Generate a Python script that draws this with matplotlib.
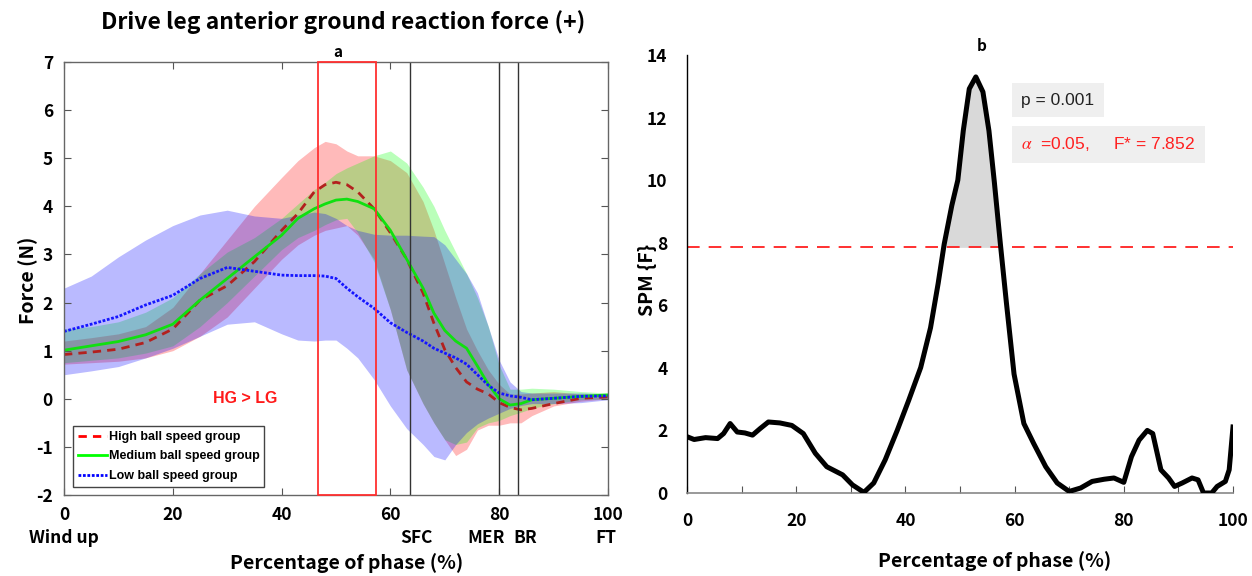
import numpy as np
import matplotlib
matplotlib.use("Agg")
import matplotlib.pyplot as plt
from matplotlib.patches import Rectangle
from matplotlib.lines import Line2D
from matplotlib.transforms import blended_transform_factory

plt.rcParams['font.family'] = ['Noto Sans CJK KR', 'DejaVu Sans']
plt.rcParams['mathtext.fontset'] = 'stix'
plt.rcParams['axes.unicode_minus'] = False

# ---------------- data: panel a ----------------
phase = [0, 5, 10, 15, 20, 25, 30, 35, 40, 43, 46, 48, 50, 52, 54, 57, 60, 63, 66, 68,
         70, 72, 74, 76, 78, 80, 82, 84, 86, 90, 95, 100]

high_mean = [0.92, 0.97, 1.03, 1.17, 1.45, 2.05, 2.35, 2.85, 3.5, 3.85, 4.3, 4.45, 4.5, 4.45,
             4.3, 3.95, 3.45, 2.9, 2.2, 1.57, 1.02, 0.65, 0.35, 0.2, 0.1, -0.08, -0.18,
             -0.23, -0.2, -0.1, 0.01, 0.04]
high_upper = [1.2, 1.27, 1.35, 1.5, 1.9, 2.6, 3.3, 4.0, 4.6, 4.95, 5.22, 5.35, 5.3, 5.15,
              5.05, 5.05, 4.95, 4.7, 4.1, 3.5, 2.8, 2.1, 1.45, 1.0, 0.6, 0.3, 0.1, 0.1,
              0.12, 0.15, 0.1, 0.08]
high_lower = [0.72, 0.75, 0.78, 0.85, 1.0, 1.3, 1.7, 2.3, 2.9, 3.2, 3.4, 3.5, 3.55, 3.6,
              3.4, 2.9, 1.85, 0.6, -0.1, -0.5, -0.85, -1.18, -1.05, -0.65, -0.55, -0.55,
              -0.5, -0.5, -0.35, -0.15, -0.05, 0.0]

med_mean = [1.01, 1.1, 1.19, 1.33, 1.55, 2.05, 2.5, 2.95, 3.4, 3.75, 3.95, 4.05, 4.13, 4.15,
            4.1, 3.95, 3.5, 2.9, 2.3, 1.78, 1.42, 1.2, 1.05, 0.68, 0.3, 0.0, -0.13, -0.1,
            -0.02, 0.01, 0.05, 0.08]
med_upper = [1.45, 1.5, 1.6, 1.8, 2.1, 2.6, 3.05, 3.35, 3.75, 4.05, 4.35, 4.5, 4.68, 4.8,
             4.9, 5.05, 5.15, 4.9, 4.4, 4.0, 3.5, 3.05, 2.6, 2.1, 1.5, 0.7, 0.2, 0.2,
             0.22, 0.2, 0.15, 0.12]
med_lower = [0.75, 0.8, 0.85, 0.95, 1.1, 1.5, 2.0, 2.55, 3.1, 3.35, 3.5, 3.62, 3.72, 3.75,
             3.45, 2.85, 1.85, 0.6, -0.1, -0.5, -0.85, -0.95, -0.9, -0.6, -0.5, -0.45,
             -0.35, -0.28, -0.2, -0.1, -0.02, 0.0]

low_mean = [1.4, 1.55, 1.71, 1.95, 2.15, 2.5, 2.73, 2.65, 2.57, 2.56, 2.56, 2.55, 2.5, 2.3,
            2.12, 1.88, 1.58, 1.38, 1.2, 1.05, 0.95, 0.85, 0.72, 0.5, 0.28, 0.12, 0.06,
            0.03, -0.02, 0.01, 0.05, 0.06]
low_upper = [2.3, 2.55, 2.95, 3.3, 3.6, 3.82, 3.92, 3.8, 3.75, 3.82, 3.88, 3.85, 3.75, 3.6,
             3.5, 3.42, 3.4, 3.4, 3.38, 3.37, 3.2, 2.9, 2.6, 2.2, 1.5, 0.8, 0.35, 0.15,
             0.12, 0.12, 0.12, 0.1]
low_lower = [0.5, 0.58, 0.67, 0.85, 1.05, 1.3, 1.55, 1.6, 1.35, 1.22, 1.2, 1.22, 1.22, 1.05,
             0.85, 0.4, -0.15, -0.62, -0.95, -1.2, -1.27, -0.95, -0.7, -0.52, -0.4, -0.3,
             -0.2, -0.14, -0.1, -0.1, -0.08, -0.02]

group_names = ['High ball speed group', 'Medium ball speed group', 'Low ball speed group']
event_pos = [63.6, 79.9, 83.4]
event_labels = ['Wind up', 'SFC', 'MER', 'BR', 'FT']
event_label_pos = [0, 64.8, 77.6, 84.7, 99.6]
sig_window = [46.6, 57.3]

# ---------------- data: panel b ----------------
spm_x = [0, 1.3, 3.4, 5.6, 6.7, 7.9, 9.2, 10.6, 12.0, 13.4, 14.9, 17.0, 19.2, 21.3, 23.5,
         25.6, 28.5, 30.3, 32.4, 34.2, 36.3, 38.5, 40.6, 42.8, 44.6, 46.0, 47.1, 48.5,
         49.6, 50.6, 51.7, 52.9, 54.2, 55.3, 56.3, 57.4, 58.5, 59.9, 61.7, 63.5, 65.7,
         67.8, 70.0, 72.1, 74.2, 76.4, 78.2, 80.0, 81.4, 82.8, 84.3, 85.3, 86.8, 88.2,
         89.3, 90.7, 92.5, 93.6, 94.6, 96.1, 97.1, 98.6, 99.3, 100]
spm_f = [1.80, 1.71, 1.77, 1.74, 1.90, 2.22, 1.95, 1.92, 1.85, 2.06, 2.27, 2.24, 2.16, 1.90,
         1.27, 0.84, 0.58, 0.26, 0.02, 0.32, 1.06, 2.0, 2.96, 4.01, 5.28, 6.7, 7.95, 9.19,
         10.0, 11.58, 12.92, 13.3, 12.82, 11.58, 9.92, 7.95, 6.08, 3.8, 2.22, 1.58, 0.84,
         0.32, 0.05, 0.16, 0.37, 0.44, 0.48, 0.34, 1.16, 1.69, 2.0, 1.9, 0.74, 0.48, 0.21,
         0.32, 0.48, 0.42, 0.0, 0.0, 0.21, 0.37, 0.74, 2.11]
f_crit = 7.852
p_text = 'p = 0.001'
alpha_text = r'$\alpha$  =0.05,     F* = 7.852'

# ---------------- figure ----------------
W, H = 1252, 576
fig = plt.figure(figsize=(W / 100, H / 100), dpi=100)

ax1 = fig.add_axes([64 / W, 1 - 495 / H, (608 - 64) / W, (495 - 62) / H])
ax2 = fig.add_axes([687 / W, 1 - 493 / H, (1233 - 687) / W, (493 - 55) / H])

narrow = ['Liberation Sans', 'DejaVu Sans']

x = np.array(phase)
series = [
    (high_mean, high_lower, high_upper, (1, 0, 0), '#b3201e', (0, (3, 2.2))),
    (med_mean, med_lower, med_upper, (0, 1, 0), '#10e010', '-'),
    (low_mean, low_lower, low_upper, (0, 0, 1), '#1515ff', (0, (1, 0.6))),
]
handles = []
for (m, lo, up, c, lc, ls), name in zip(series, group_names):
    ax1.fill_between(x, lo, up, color=c, alpha=0.27, linewidth=0)
    ax1.plot(x, m, color=lc, ls=ls, lw=2.0)
    handles.append(Line2D([], [], color=c, ls=ls, lw=2.0, label=name))

for ev in event_pos:
    ax1.axvline(ev, color='#333333', lw=1.0)
ax1.add_patch(Rectangle((sig_window[0], -2), sig_window[1] - sig_window[0], 9,
                        fill=False, edgecolor='#ff3030', lw=1.3, clip_on=False, zorder=5))

ax1.set_xlim(0, 100)
ax1.set_ylim(-2, 7)
ax1.set_xticks(range(0, 101, 20))
ax1.set_yticks(range(-2, 8))
ax1.tick_params(direction='in', length=5, top=True, right=True, color='#555555',
                labelsize=12.5, pad=8)
for lab in ax1.get_xticklabels() + ax1.get_yticklabels():
    lab.set_fontweight('bold')
for sp in ax1.spines.values():
    sp.set_color('#666666')
    sp.set_linewidth(1.0)

leg = ax1.legend(handles=handles, loc='lower left', bbox_to_anchor=(0.0165, 0.0185),
                 borderaxespad=0, fancybox=False, edgecolor='#444444', framealpha=1,
                 handlelength=2.3, handletextpad=0.15, borderpad=0.4, labelspacing=0.6,
                 prop={'family': narrow, 'weight': 'bold', 'size': 9})
leg.get_frame().set_linewidth(1.0)

ax1.text(33.3, 0.0, 'HG > LG', color='#ff1a1a', ha='center', va='center',
         fontsize=11.5, fontweight='bold', family=narrow)

trans = blended_transform_factory(ax1.transData, ax1.transAxes)
for lab, pos in zip(event_labels, event_label_pos):
    ax1.text(pos, -0.099, lab, transform=trans, ha='center', va='center',
             fontsize=12.5, fontweight='bold')

ax1.text(50.3, 1.023, 'a', transform=trans, ha='center', va='center',
         fontsize=11, fontweight='bold')

fig.text(343 / W, 1 - 22 / H, 'Drive leg anterior ground reaction force (+)',
         ha='center', va='center', fontsize=16.5, fontweight='bold')
fig.text(347 / W, 1 - 563 / H, 'Percentage of phase (%)', ha='center', va='center',
         fontsize=14, fontweight='bold')
fig.text(28 / W, 1 - 280 / H, 'Force (N)', ha='center', va='center', rotation=90,
         fontsize=14, fontweight='bold')

# ---------------- panel b ----------------
sx = np.array(spm_x)
sf = np.array(spm_f)
ax2.fill_between(sx, f_crit, sf, where=sf > f_crit, interpolate=True,
                 color='#d9d9d9', linewidth=0, zorder=1)
ax2.axhline(f_crit, color='#ff2020', lw=1.3, ls=(0, (7, 5)), zorder=2)
ax2.plot(sx, sf, color='black', lw=3.6, zorder=3, solid_joinstyle='round')

ax2.set_xlim(0, 100)
ax2.set_ylim(0, 14)
ax2.set_xticks(range(0, 101, 10))
ax2.set_xticklabels([str(v) if v % 20 == 0 else '' for v in range(0, 101, 10)])
ax2.set_yticks(range(0, 15, 2))
ax2.tick_params(axis='x', direction='in', length=5, color='#555555', labelsize=12.5, pad=14)
ax2.tick_params(axis='y', length=0, labelsize=12.5, pad=14)
for lab in ax2.get_xticklabels() + ax2.get_yticklabels():
    lab.set_fontweight('bold')
ax2.spines['top'].set_visible(False)
ax2.spines['right'].set_visible(False)
ax2.spines['left'].set_color('black')
ax2.spines['left'].set_linewidth(1.0)
ax2.spines['bottom'].set_color('#888888')
ax2.spines['bottom'].set_linewidth(1.2)

ax2.text(54, 14.28, 'b', ha='center', va='center', fontsize=11, fontweight='bold')

ax2.text(61.2, 12.55, p_text, ha='left', va='center', fontsize=12.5,
         family=narrow, color='#222222',
         bbox=dict(boxstyle='square,pad=0.55', facecolor='#efefef', edgecolor='none'))
ax2.text(61.2, 11.15, alpha_text, ha='left', va='center', fontsize=12.5,
         family=narrow, color='#ff2020',
         bbox=dict(boxstyle='square,pad=0.55', facecolor='#efefef', edgecolor='none'))

fig.text(995 / W, 1 - 561 / H, 'Percentage of phase (%)', ha='center', va='center',
         fontsize=14, fontweight='bold')
fig.text(648 / W, 1 - 280 / H, 'SPM {F}', ha='center', va='center', rotation=90,
         fontsize=14, fontweight='bold')

fig.savefig('out.png', dpi=100)
